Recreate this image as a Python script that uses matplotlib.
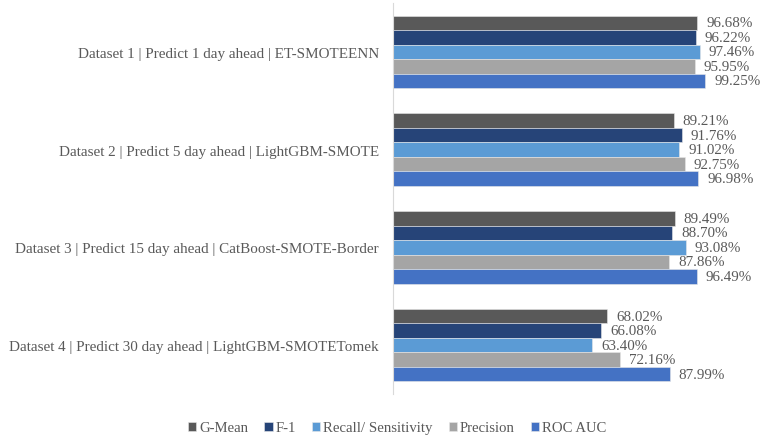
import numpy as np
import matplotlib.pyplot as plt

# Best model per dataset / horizon
datasets = [
    "Dataset 1 | Predict 1 day ahead | ET-SMOTEENN",
    "Dataset 2 | Predict 5 day ahead | LightGBM-SMOTE",
    "Dataset 3 | Predict 15 day ahead | CatBoost-SMOTE-Border",
    "Dataset 4 | Predict 30 day ahead | LightGBM-SMOTETomek",
]
metrics = ["G-Mean", "F-1", "Recall/ Sensitivity", "Precision", "ROC AUC"]

g_mean = [96.68, 89.21, 89.49, 68.02]
f1 = [96.22, 91.76, 88.70, 66.08]
recall = [97.46, 91.02, 93.08, 63.40]
precision = [95.95, 92.75, 87.86, 72.16]
roc_auc = [99.25, 96.98, 96.49, 87.99]

series = [g_mean, f1, recall, precision, roc_auc]
colors = ["#595959", "#264478", "#5B9BD5", "#A5A5A5", "#4472C4"]

plt.rcParams['font.family'] = ['Liberation Serif', 'DejaVu Serif']
text_color = "#595959"

fig = plt.figure(figsize=(7.61, 4.39), dpi=100)
ax = fig.add_axes([0.5164, 0.1002, 0.47, 0.8907])

y = np.arange(len(datasets))[::-1]  # dataset 1 at top
h = 0.148

for j, (name, vals, c) in enumerate(zip(metrics, series, colors)):
    pos = y + (2 - j) * h
    bars = ax.barh(pos, vals, height=h, color=c, label=name,
                   edgecolor="#E8E8E8", linewidth=0.4)
    for p, v in zip(pos, vals):
        ax.annotate(f"{v:.2f}%", xy=(v, p), xytext=(6.5, 0),
                    textcoords="offset points", va="center", ha="left",
                    fontsize=10.8, color=text_color, clip_on=False)

ax.set_xlim(0, 357 / 3.14)
ax.set_ylim(-0.5, 3.5)
ax.set_yticks(y)
ax.set_yticklabels(datasets, fontsize=10.9, color=text_color)
ax.tick_params(axis="y", length=0, pad=10)
ax.set_xticks([])
for s in ["top", "right", "bottom"]:
    ax.spines[s].set_visible(False)
ax.spines["left"].set_color("#D9D9D9")

fig.legend(loc="center", bbox_to_anchor=(0.522, 0.023), ncol=5, frameon=False,
           fontsize=10.6, handlelength=0.55, handleheight=0.55,
           handletextpad=0.2, columnspacing=1.1, labelcolor=text_color)

fig.savefig("out.png", dpi=100)
